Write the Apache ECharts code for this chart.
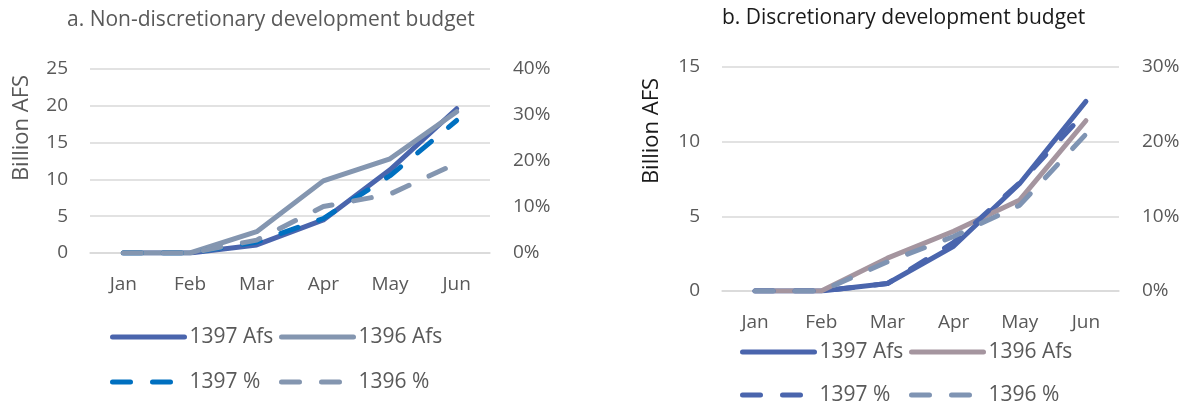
<!DOCTYPE html>
<html>
<head>
<meta charset="utf-8">
<script src="https://cdn.jsdelivr.net/npm/echarts@6/dist/echarts.min.js"></script>
<style>
  body { margin: 0; background: #fff; }
  #left { position: absolute; left: 0; top: 0; width: 600px; height: 405px; }
  #right { position: absolute; left: 600px; top: 0; width: 593px; height: 405px; }
</style>
</head>
<body>
<div id="left"></div>
<div id="right"></div>
<script>
// data
var months = ['Jan', 'Feb', 'Mar', 'Apr', 'May', 'Jun'];

// a. non-discretionary (billion AFS, % of budget)
var nd1397Afs = [0, 0, 1.1, 4.5, 11.3, 19.6];
var nd1396Afs = [0, 0, 2.9, 9.8, 12.8, 19.2];
var nd1397Pct = [0, 0, 2.4, 7.5, 16.8, 28.8];
var nd1396Pct = [0, 0, 2.8, 10.1, 12.8, 19.5];

// b. discretionary
var d1397Afs = [0, 0, 0.5, 3.0, 7.2, 12.7];
var d1396Afs = [0, 0, 2.2, 4.0, 6.1, 11.4];
var d1397Pct = [0, 0, 1.0, 6.5, 14.5, 24.0];
var d1396Pct = [0, 0, 3.9, 7.3, 11.5, 21.0];

var FONT = 'Open Sans';
var GREY = '#595959';
var DASH = [18, 22];

function lineSeries(name, data, color, axis, dashed) {
    return {
        name: name,
        type: 'line',
        yAxisIndex: axis,
        data: data,
        symbol: 'none',
        showSymbol: false,
        lineStyle: {
            color: color,
            width: 5,
            cap: 'round',
            join: 'round',
            type: dashed ? DASH : 'solid'
        },
        itemStyle: { color: color }
    };
}

function legendItem(name, left, top, color, dashed) {
    return {
        data: [name],
        left: left,
        top: top,
        padding: 0,
        itemWidth: 72,
        itemHeight: 14,
        itemStyle: { opacity: 0 },
        lineStyle: { color: color, width: 5, cap: 'round', type: dashed ? DASH : 'solid' },
        textStyle: { fontFamily: FONT, fontSize: 21, color: GREY, lineHeight: 22 }
    };
}

function makeOption(c) {
    return {
        animation: false,
        title: {
            text: c.title,
            left: c.titleLeft,
            top: c.titleTop,
            padding: 0,
            textStyle: { fontFamily: FONT, fontSize: 21, fontWeight: 'normal', color: c.titleColor }
        },
        graphic: [{
            type: 'text',
            x: c.nameX,
            y: c.nameY,
            rotation: Math.PI / 2,
            style: {
                text: 'Billion AFS',
                fontFamily: FONT,
                fontSize: 22,
                fill: c.nameColor,
                align: 'center',
                verticalAlign: 'middle'
            }
        }],
        legend: [
            legendItem(c.names[0], c.legX[0], c.legY[0], c.colors[0], false),
            legendItem(c.names[1], c.legX[1], c.legY[0], c.colors[1], false),
            legendItem(c.names[2], c.legX[0], c.legY[1], c.colors[2], true),
            legendItem(c.names[3], c.legX[1], c.legY[1], c.colors[3], true)
        ],
        grid: c.grid,
        xAxis: {
            type: 'category',
            data: months,
            boundaryGap: true,
            axisLine: { lineStyle: { color: '#d9d9d9', width: 1.5 } },
            axisTick: { show: false },
            axisLabel: { fontFamily: FONT, fontSize: 19, color: GREY, margin: 22 }
        },
        yAxis: [{
            type: 'value',
            min: 0,
            max: c.leftMax,
            interval: 5,
            axisLine: { show: false },
            axisTick: { show: false },
            splitLine: { lineStyle: { color: '#d9d9d9', width: 1.5 } },
            axisLabel: { fontFamily: FONT, fontSize: 19, color: GREY, margin: 22 }
        }, {
            type: 'value',
            min: 0,
            max: c.rightMax,
            interval: 10,
            axisLine: { show: false },
            axisTick: { show: false },
            splitLine: { show: false },
            axisLabel: { fontFamily: FONT, fontSize: 19, color: GREY, margin: 23, formatter: '{value}%' }
        }],
        series: [
            lineSeries(c.names[0], c.s[0], c.colors[0], 0, false),
            lineSeries(c.names[1], c.s[1], c.colors[1], 0, false),
            lineSeries(c.names[2], c.s[2], c.colors[2], 1, true),
            lineSeries(c.names[3], c.s[3], c.colors[3], 1, true)
        ]
    };
}

var names = ['1397 Afs', '1396 Afs', '1397 %', '1396 %'];

var leftChart = echarts.init(document.getElementById('left'));
leftChart.setOption(makeOption({
    title: 'a. Non-discretionary development budget',
    titleLeft: 67, titleTop: 10, titleColor: GREY,
    nameX: 22, nameY: 128, nameColor: GREY,
    grid: { left: 90, top: 69, width: 400, height: 184 },
    leftMax: 25, rightMax: 40,
    names: names,
    s: [nd1397Afs, nd1396Afs, nd1397Pct, nd1396Pct],
    colors: ['#4a65ad', '#8496b0', '#0070c0', '#8496b0'],
    legX: [110, 279], legY: [326, 371]
}));

var rightChart = echarts.init(document.getElementById('right'));
rightChart.setOption(makeOption({
    title: 'b. Discretionary development budget',
    titleLeft: 122, titleTop: 8, titleColor: '#1a1a1a',
    nameX: 52, nameY: 131, nameColor: '#1a1a1a',
    grid: { left: 122, top: 67, width: 397, height: 224 },
    leftMax: 15, rightMax: 30,
    names: names,
    s: [d1397Afs, d1396Afs, d1397Pct, d1396Pct],
    colors: ['#4a65ad', '#a5959f', '#4a65ad', '#7f94b3'],
    legX: [140, 309], legY: [341, 384]
}));
</script>
</body>
</html>
